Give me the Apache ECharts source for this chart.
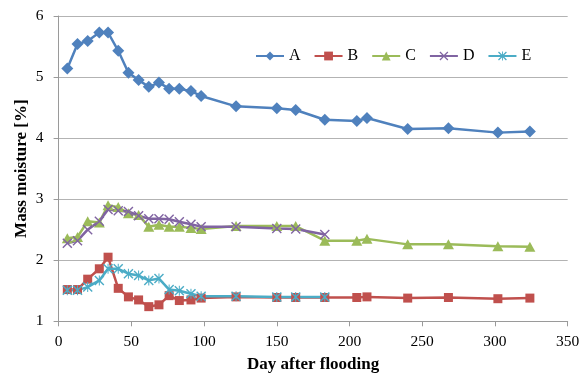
<!DOCTYPE html>
<html>
<head>
<meta charset="utf-8">
<script src="https://cdn.jsdelivr.net/npm/echarts@6/dist/echarts.min.js"></script>
<style>
  html, body { margin: 0; padding: 0; background: #fff; }
  #chart { width: 584px; height: 373px; }
</style>
</head>
<body>
<div id="chart"></div>
<script>
// Sampling days after flooding
const days = [6, 13, 20, 28, 34, 41, 48, 55, 62, 69, 76, 83, 91, 98, 122, 150, 163, 183, 205, 212, 240, 268, 302, 324];

// Mass moisture [%] per profile
const seriesA = [5.14, 5.54, 5.59, 5.73, 5.73, 5.43, 5.07, 4.95, 4.84, 4.91, 4.81, 4.81, 4.77, 4.69, 4.52, 4.49, 4.46, 4.30, 4.28, 4.33, 4.15, 4.16, 4.09, 4.11];
const seriesB = [1.52, 1.52, 1.69, 1.86, 2.05, 1.54, 1.40, 1.35, 1.24, 1.27, 1.42, 1.34, 1.35, 1.38, 1.40, 1.39, 1.39, 1.39, 1.39, 1.40, 1.38, 1.39, 1.37, 1.38];
const seriesC = [2.36, 2.38, 2.64, 2.62, 2.90, 2.87, 2.77, 2.74, 2.55, 2.58, 2.55, 2.55, 2.53, 2.51, 2.56, 2.56, 2.56, 2.32, 2.32, 2.35, 2.26, 2.26, 2.23, 2.22];
const seriesD = [2.28, 2.32, 2.50, 2.64, 2.83, 2.81, 2.80, 2.73, 2.68, 2.68, 2.67, 2.63, 2.59, 2.55, 2.55, 2.52, 2.51, 2.42];
const seriesE = [1.51, 1.51, 1.56, 1.67, 1.86, 1.86, 1.78, 1.75, 1.67, 1.70, 1.52, 1.50, 1.45, 1.41, 1.41, 1.40, 1.40, 1.40];

const seriesNames = ['A', 'B', 'C', 'D', 'E'];
const xTicks = [0, 50, 100, 150, 200, 250, 300, 350];
const yTicks = [1, 2, 3, 4, 5, 6];

const SERIF = '"Liberation Serif", "Times New Roman", serif';

// Marker shapes: thin cross and asterisk
const crossPath = 'path://M0,1L1,0L5,4L9,0L10,1L6,5L10,9L9,10L5,6L1,10L0,9L4,5Z';
const starPath = 'path://M0,1L1,0L5,4L9,0L10,1L6,5L10,9L9,10L5,6L1,10L0,9L4,5Z M4.5,0L5.5,0L5.5,10L4.5,10Z';

function pairs(vals) {
  return vals.map((v, i) => [days[i], v]);
}

function lineSeries(name, vals, color, symbol, size, width) {
  return {
    name: name,
    type: 'line',
    data: pairs(vals),
    symbol: symbol,
    symbolSize: size,
    showAllSymbol: true,
    lineStyle: { color: color, width: width },
    itemStyle: { color: color, borderWidth: 0 },
    emphasis: { disabled: true },
    animation: false
  };
}

const chart = echarts.init(document.getElementById('chart'), null, { renderer: 'canvas' });

chart.setOption({
  backgroundColor: '#fff',
  animation: false,
  grid: {
    left: 58.6, right: 16.3, top: 16, bottom: 51.7,
    containLabel: false,
    outerBoundsMode: 'none'
  },
  legend: {
    data: seriesNames,
    left: 250,
    top: 43,
    itemWidth: 28,
    itemHeight: 11,
    itemGap: 13,
    textStyle: { fontFamily: SERIF, fontSize: 16, color: '#000' }
  },
  xAxis: {
    type: 'value',
    min: xTicks[0],
    max: xTicks[xTicks.length - 1],
    interval: 50,
    name: 'Day after flooding',
    nameLocation: 'middle',
    nameGap: 35,
    nameMoveOverlap: false,
    nameTextStyle: { fontFamily: SERIF, fontSize: 17, fontWeight: 'bold', color: '#000' },
    axisLine: { show: true, lineStyle: { color: '#9a9a9a', width: 1 } },
    axisTick: { show: true, inside: false, length: 5, lineStyle: { color: '#9a9a9a' } },
    axisLabel: { margin: 13, fontFamily: SERIF, fontSize: 15.5, color: '#000' },
    splitLine: { show: false }
  },
  yAxis: {
    type: 'value',
    min: yTicks[0],
    max: yTicks[yTicks.length - 1],
    interval: 1,
    name: 'Mass moisture [%]',
    nameLocation: 'middle',
    nameGap: 28,
    nameMoveOverlap: false,
    nameRotate: 90,
    nameTextStyle: { fontFamily: SERIF, fontSize: 17, fontWeight: 'bold', color: '#000' },
    axisLine: { show: true, lineStyle: { color: '#9a9a9a', width: 1 } },
    axisTick: { show: true, inside: false, length: 5, lineStyle: { color: '#9a9a9a' } },
    axisLabel: { margin: 15, fontFamily: SERIF, fontSize: 15.5, color: '#000' },
    splitLine: { show: true, lineStyle: { color: '#b3b3b3', width: 1 } }
  },
  series: [
    lineSeries('A', seriesA, '#4F81BD', 'diamond', [12, 12], 2.5),
    lineSeries('B', seriesB, '#C0504D', 'rect', 9, 2.5),
    lineSeries('C', seriesC, '#9BBB59', 'triangle', [11, 10], 2.5),
    lineSeries('D', seriesD, '#8064A2', crossPath, 10, 2.5),
    lineSeries('E', seriesE, '#4BACC6', starPath, 10, 2.5)
  ]
});
</script>
</body>
</html>
